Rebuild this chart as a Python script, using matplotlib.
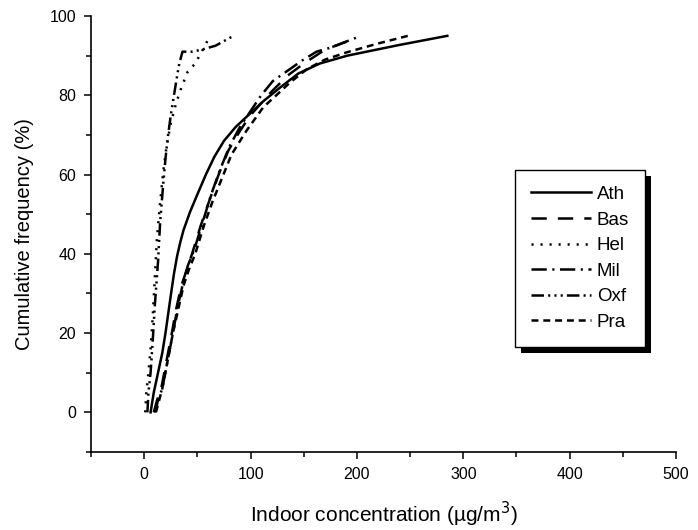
import matplotlib
matplotlib.use('Agg')
import matplotlib.pyplot as plt
from matplotlib.patches import Rectangle
from matplotlib.ticker import MultipleLocator

plt.rcParams['font.family'] = ['Liberation Sans', 'DejaVu Sans']
plt.rcParams['lines.scale_dashes'] = False

# cumulative frequency curves
ath_x = [6, 9, 13, 17, 20, 25, 28, 31, 34, 37, 43, 50, 58, 66, 75, 86, 98, 112, 128, 145, 165, 191, 240, 285]
ath_y = [0, 5, 10, 15, 20, 29.5, 35, 39.5, 43, 46, 50.5, 55, 60, 64.5, 68.5, 72, 75, 78.5, 82, 85.5, 88, 90, 92.7, 95]

bas_x = [9, 12, 16, 21, 26, 30, 35, 40, 45, 53, 62, 70, 79, 90, 100, 110, 120, 135, 150, 170, 200]
bas_y = [0, 3, 6, 13, 20, 26, 32, 36, 40, 47, 54, 60, 66, 71, 75, 78, 81, 85, 88, 91.5, 94.5]

hel_x = [1, 2, 4, 6, 8, 10, 12, 15, 18, 21, 25, 30, 35, 41, 48, 62]
hel_y = [0, 5, 10, 16, 24, 34, 44, 53, 61, 67, 73, 78, 82, 86, 88, 95]

mil_x = [10, 13, 17, 22, 27, 31, 36, 41, 47, 55, 63, 71, 80, 90, 100, 110, 121, 137, 148, 162, 175, 201]
mil_y = [0, 3, 6, 13, 20, 26, 32, 37, 41, 48, 55, 61, 67, 72, 76, 80, 83.6, 86.6, 88.7, 91, 92, 94.7]

oxf_x = [3, 4, 6, 8, 10, 13, 15, 18, 20, 22, 25, 28, 31, 33, 36, 45, 54, 67, 84]
oxf_y = [0, 5, 10, 18, 27, 38, 48, 58, 64, 69, 75, 80, 85, 88, 91, 91, 91.5, 92.5, 95]

pra_x = [11, 14, 17, 22, 27, 32, 37, 42, 48, 56, 64, 73, 82, 96, 112, 125, 137, 153, 170, 190, 219, 248]
pra_y = [0, 3, 6, 13, 20, 26, 32, 36, 40, 47, 53, 59, 65, 71, 77, 80.2, 83.2, 86.6, 89, 90.8, 93, 95]

fig = plt.figure(figsize=(6.98, 5.30), dpi=100)
ax = fig.add_axes([0.1304, 0.1472, 0.8381, 0.8226])

lw = 1.8
ax.plot(ath_x, ath_y, color='k', lw=lw, label='Ath')
ax.plot(bas_x, bas_y, color='k', lw=lw, ls=(0, (11, 8)), label='Bas')
ax.plot(hel_x, hel_y, color='k', lw=lw, ls=(0, (1.5, 5)), label='Hel')
ax.plot(mil_x, mil_y, color='k', lw=lw, ls=(0, (11, 4, 1.5, 4)), label='Mil')
ax.plot(oxf_x, oxf_y, color='k', lw=lw, ls=(0, (9, 3, 1.5, 3, 1.5, 3, 1.5, 3)), label='Oxf')
ax.plot(pra_x, pra_y, color='k', lw=lw, ls=(0, (5, 3.5)), label='Pra')

ax.set_xlim(-50, 500)
ax.set_ylim(-10, 100)
ax.xaxis.set_major_locator(MultipleLocator(100))
ax.xaxis.set_minor_locator(MultipleLocator(50))
ax.yaxis.set_major_locator(MultipleLocator(20))
ax.yaxis.set_minor_locator(MultipleLocator(10))
ax.spines['top'].set_visible(False)
ax.spines['right'].set_visible(False)
ax.spines['left'].set_linewidth(1.2)
ax.spines['bottom'].set_linewidth(1.2)
ax.tick_params(which='major', direction='out', length=4.8, width=1.1, labelsize=11.5, pad=6)
ax.tick_params(which='minor', direction='out', length=3.4, width=1.1)

ax.set_xlabel('Indoor concentration (µg/m$^3$)', fontsize=15, labelpad=13)
ax.set_ylabel('Cumulative frequency (%)', fontsize=14.5, labelpad=11)

leg = ax.legend(loc='upper left', bbox_to_anchor=(0.725, 0.647), borderaxespad=0,
                fontsize=13.5, handlelength=3.2, handletextpad=0.3, labelspacing=0.45,
                borderpad=0.85, fancybox=False, frameon=True)
leg.get_frame().set_edgecolor('k')
leg.get_frame().set_linewidth(1.0)
leg.get_frame().set_alpha(1)
leg.set_zorder(6)

fig.canvas.draw()
bb = leg.get_window_extent()
shadow = Rectangle((bb.x0 + 6, bb.y0 - 6), bb.width, bb.height, transform=None,
                   facecolor='k', edgecolor='none', zorder=5, clip_on=False)
ax.add_artist(shadow)

fig.savefig('out.png', dpi=100)
